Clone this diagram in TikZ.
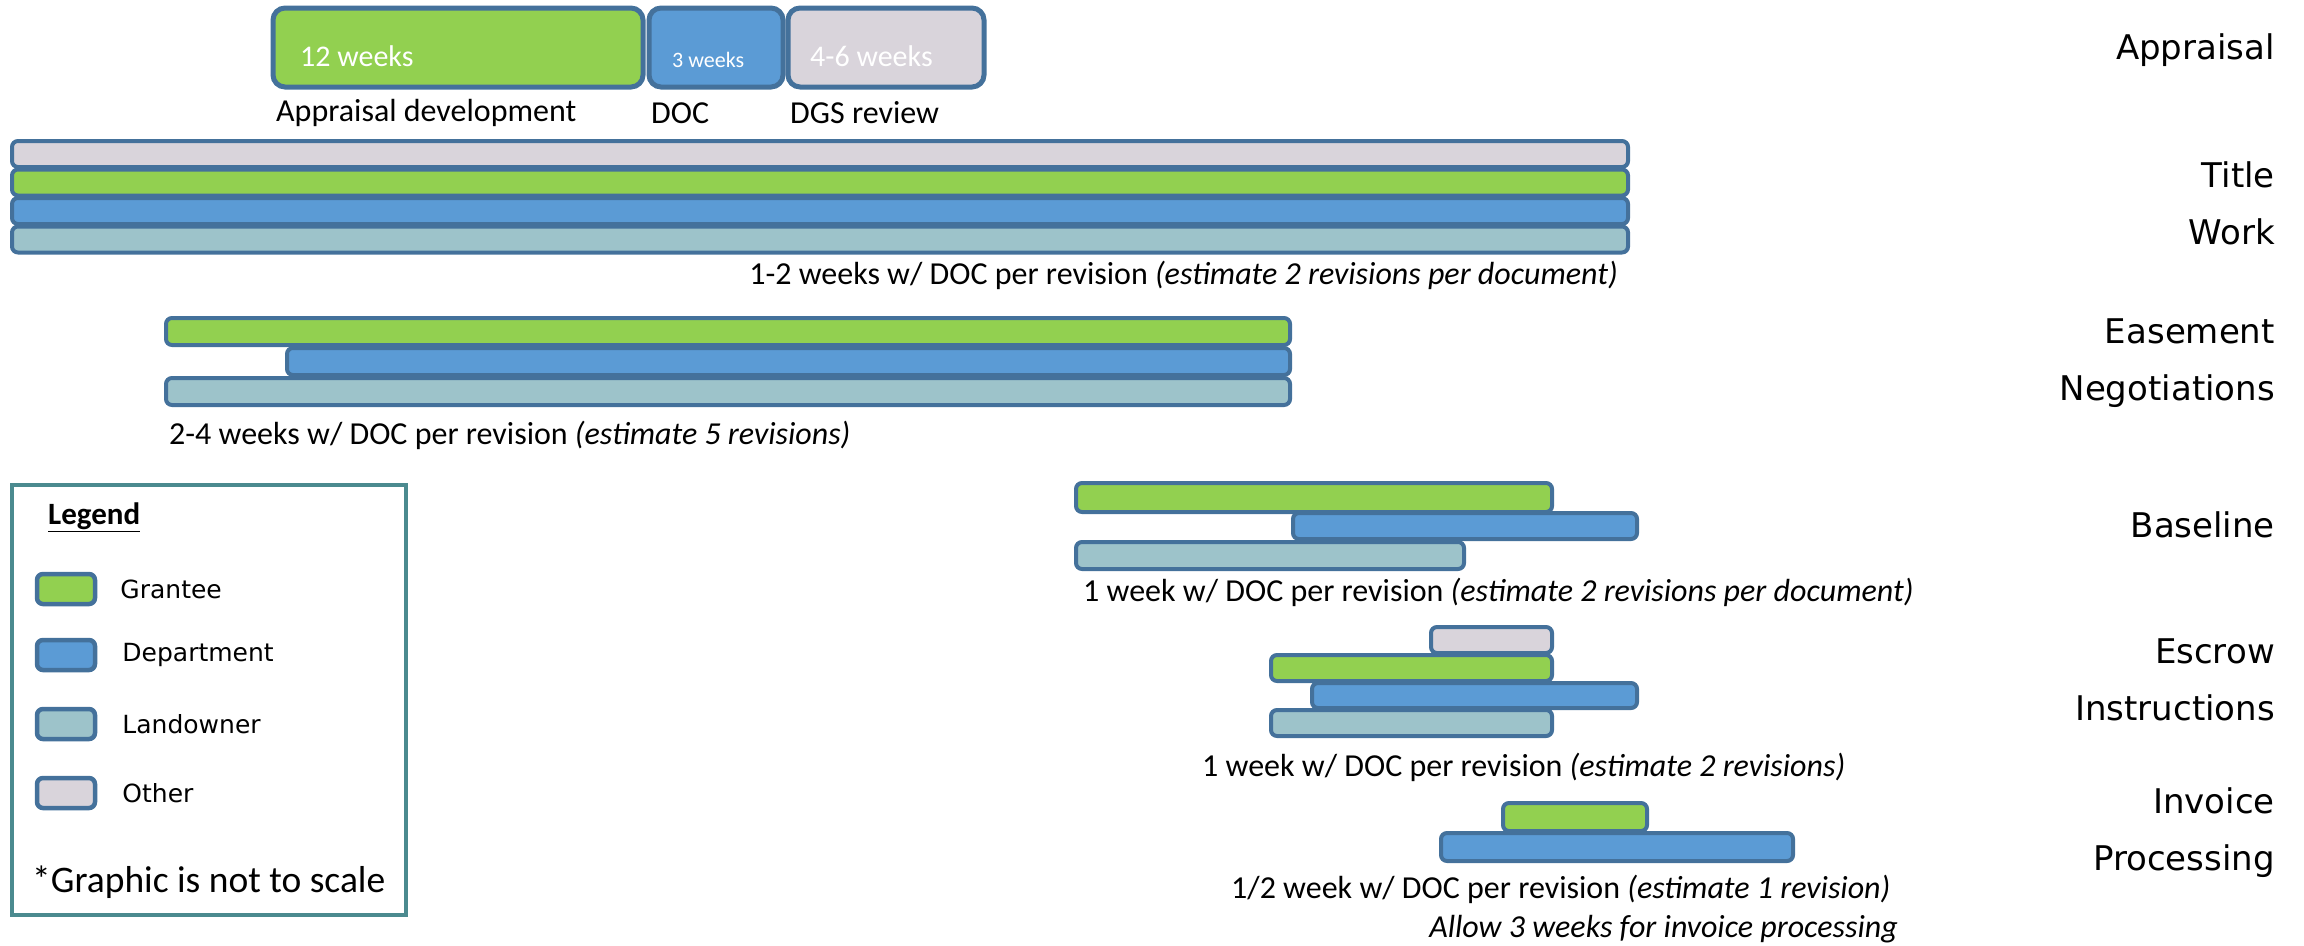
\documentclass[tikz,border=0pt]{standalone}
\usepackage{fontspec}
\setmainfont{Carlito}
\newfontfamily\phasefont{DejaVu Sans}
\usepackage{tikz}
\usetikzlibrary{positioning}
\usepackage{xcolor}
\definecolor{grantee}{HTML}{92D050}
\definecolor{dept}{HTML}{5B9BD5}
\definecolor{landowner}{HTML}{9DC3CA}
\definecolor{other}{HTML}{D9D4DB}
\definecolor{barline}{HTML}{44719B}
\definecolor{keyline}{HTML}{4B8A8F}

\begin{document}
\begin{tikzpicture}[x=1pt,y=-1pt,
  bar/.style={draw=barline, line width=4pt, rounded corners=6pt},
  note/.style={inner sep=0pt, font=\fontsize{32}{38}\selectfont},
  phase/.style={inner sep=0pt, anchor=east, align=right, font=\phasefont\fontsize{34}{57}\selectfont},
  swatch/.style={draw=barline, line width=4.5pt, rounded corners=6pt, minimum width=58pt, minimum height=30pt, inner sep=0pt},
  keytext/.style={inner sep=0pt, anchor=west, font=\phasefont\fontsize{25}{30}\selectfont}]
\useasboundingbox (0,0) rectangle (2304,945);

% Appraisal
\draw[bar, rounded corners=12pt, line width=5pt, fill=grantee] (273,8) rectangle (643,87);
\draw[bar, rounded corners=12pt, line width=5pt, fill=dept] (649,8) rectangle (783,87);
\draw[bar, rounded corners=12pt, line width=5pt, fill=other] (788,8) rectangle (984,87);
\node[note, anchor=west, white, font=\fontsize{30}{36}\selectfont] (wkDev) at (300,56) {12 weeks};
\node[note, anchor=west, white, font=\fontsize{22}{26}\selectfont] (wkDoc) at (672,60) {3 weeks};
\node[note, anchor=west, white, font=\fontsize{30}{36}\selectfont] (wkDgs) at (810,56) {4-6 weeks};
\node[note, anchor=west] (apDev) at (276,113) {Appraisal development};
\node[note, anchor=west] (apDoc) at (651,113) {DOC};
\node[note, anchor=west] (apDgs) at (790,113) {DGS review};

% Title work
\draw[bar, fill=other] (12,141) rectangle (1628,167);
\draw[bar, fill=grantee] (12,169.5) rectangle (1628,195.5);
\draw[bar, fill=dept] (12,198) rectangle (1628,224);
\draw[bar, fill=landowner] (12,226.5) rectangle (1628,252.5);
\node[note, anchor=east] (noteTitle) at (1618,275) {1-2 weeks w/ DOC per revision \textit{(estimate 2 revisions per document)}};

% Easement negotiations
\draw[bar, fill=grantee] (166,318) rectangle (1290,345);
\draw[bar, fill=dept] (287,348) rectangle (1290,375);
\draw[bar, fill=landowner] (166,378) rectangle (1290,405);
\node[note, anchor=west] (noteEase) at (169,435) {2-4 weeks w/ DOC per revision \textit{(estimate 5 revisions)}};

% Baseline
\draw[bar, fill=grantee] (1076,483) rectangle (1552,512);
\draw[bar, fill=dept] (1293,513) rectangle (1637,539);
\draw[bar, fill=landowner] (1076,542) rectangle (1464,569);
\node[note, anchor=west] (noteBase) at (1083,592) {1 week w/ DOC per revision \textit{(estimate 2 revisions per document)}};

% Escrow instructions
\draw[bar, fill=other] (1431,627) rectangle (1552,653);
\draw[bar, fill=grantee] (1271,655) rectangle (1552,681);
\draw[bar, fill=dept] (1312,683) rectangle (1637,708);
\draw[bar, fill=landowner] (1271,710) rectangle (1552,736);
\node[note, anchor=west] (noteEscrow) at (1202,767) {1 week w/ DOC per revision \textit{(estimate 2 revisions)}};

% Invoice processing
\draw[bar, fill=grantee] (1503,803) rectangle (1647,831);
\draw[bar, fill=dept] (1441,833) rectangle (1793,861);
\node[note, anchor=west] (noteInv) at (1231,889) {1/2 week w/ DOC per revision \textit{(estimate 1 revision)}};
\node[note, anchor=east] (noteAllow) at (1898,929) {\textit{Allow 3 weeks for invoice processing}};

% phase names
\node[phase] (phAppr) at (2275,50) {Appraisal};
\node[phase] (phTitle) at (2275,203) {Title\\Work};
\node[phase] (phEase) at (2275,363) {Easement\\Negotiations};
\node[phase] (phBase) at (2275,525) {Baseline};
\node[phase] (phEscrow) at (2275,680) {Escrow\\Instructions};
\node[phase] (phInv) at (2275,833) {Invoice\\Processing};

% Legend
\draw[keyline, line width=4pt] (12,485) rectangle (406,915);
\node[note, anchor=west, font=\bfseries\fontsize{31}{36}\selectfont] (keyTitle) at (48,517) {\underline{Legend}};
\node[swatch, fill=grantee] (keyGrantee) at (66,589) {};
\node[swatch, fill=dept] (keyDept) at (66,655) {};
\node[swatch, fill=landowner] (keyLand) at (66,724) {};
\node[swatch, fill=other] (keyOther) at (66,793) {};
\node[keytext, right=23pt of keyGrantee] {Grantee};
\node[keytext, right=25pt of keyDept] {Department};
\node[keytext, right=25pt of keyLand] {Landowner};
\node[keytext, right=25pt of keyOther] {Other};
\node[note, anchor=west, font=\fontsize{37.5}{42}\selectfont] (keyScale) at (32,882) {*Graphic is not to scale};
\end{tikzpicture}
\end{document}
